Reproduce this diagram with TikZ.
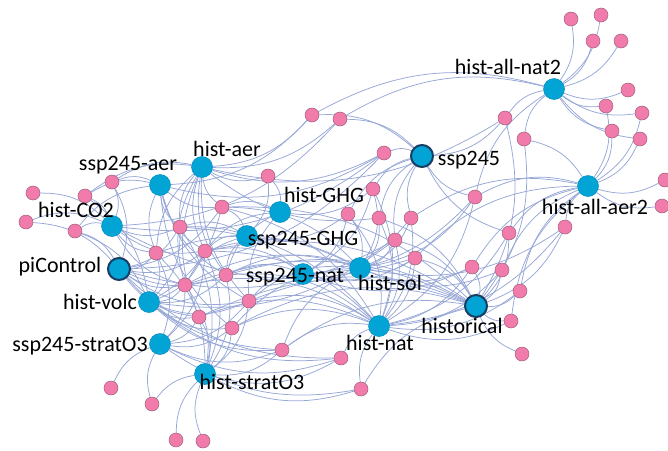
\documentclass[tikz,border=0pt]{standalone}
\usepackage{fontspec}
\setmainfont{Carlito}
\usepackage{tikz}
\usetikzlibrary{backgrounds}

\definecolor{edgec}{RGB}{150,166,214}
\definecolor{pinkc}{RGB}{241,124,172}
\definecolor{pinkd}{RGB}{160,92,122}
\definecolor{bluec}{RGB}{2,164,214}
\definecolor{blued}{RGB}{0,140,190}
\definecolor{navyc}{RGB}{24,60,98}

\begin{document}
\begin{tikzpicture}[x = 1pt, y = -1pt,
  model/.style = {circle, minimum size = 14pt, inner sep = 0pt, fill = pinkc, draw = pinkd, line width = .5pt},
  expt/.style = {circle, minimum size = 21pt, inner sep = 0pt, fill = bluec, draw = blued, line width = .5pt},
  core/.style = {expt, draw = navyc, line width = 2pt, minimum size = 22pt},
  lbl/.style = {font = \fontsize{22}{26}\selectfont, inner sep = 0pt, text = black},
  link/.style = {draw = edgec, line width = .75pt}]
\useasboundingbox (0,0) rectangle (668,450);

% experiments
\node[expt] (aer) at (202,167) {};
\node[expt] (saer) at (160,185) {};
\node[expt] (co2) at (112,226) {};
\node[core] (pic) at (119,269) {};
\node[expt] (volc) at (149,302) {};
\node[expt] (sstrat) at (160,344) {};
\node[expt] (strat) at (205,374) {};
\node[expt] (ghg) at (280,212) {};
\node[expt] (sghg) at (247,236) {};
\node[expt] (snat) at (303,274) {};
\node[expt] (sol) at (360,268) {};
\node[expt] (nat) at (379,326) {};
\node[core] (hist) at (476,306) {};
\node[core] (ssp) at (422,156) {};
\node[expt] (an2) at (554,89) {};
\node[expt] (aa2) at (588,186) {};

% models
\foreach \n/\x/\y in {p1/571/19, p2/601/15, p3/593/41, p4/621/41, p5/628/90,
    p6/606/106, p7/642/113, p8/612/131, p9/640/139, p10/505/118, p11/524/139,
    p12/312/115, p13/340/119, p14/384/153, p15/475/197, p16/665/180, p17/662/206,
    p18/565/227, p19/509/233, p20/373/189, p21/348/214, p22/379/218, p23/411/218,
    p24/395/240, p25/415/258, p26/472/267, p27/502/270, p28/520/291, p29/511/321,
    p30/522/354, p31/341/358, p32/361/389, p33/282/350, p34/268/176, p35/112/182,
    p36/33/193, p37/85/196, p38/26/222, p39/75/231, p40/222/207, p41/180/227,
    p42/156/253, p43/205/251, p44/226/275, p45/185/285, p46/249/301, p47/199/317,
    p48/232/328, p49/111/388, p50/152/404, p51/176/440, p52/203/441}
  \node[model] (\n) at (\x,\y) {};

% links
\begin{scope}[on background layer]
\foreach \p/\bs in {p1/{an2}, p2/{an2}, p3/{an2}, p4/{an2}, p5/{an2},
    p6/{an2,aa2}, p7/{an2,aa2}, p8/{an2,aa2}, p9/{an2,aa2},
    p10/{an2,ssp,aer,hist}, p11/{an2,aa2,hist},
    p12/{aer,saer,ssp,an2}, p13/{aer,ssp,an2,co2}, p14/{ssp,aer,saer,co2,pic},
    p15/{ssp,aa2,an2,sol,nat,snat}, p16/{aa2}, p17/{aa2},
    p18/{aa2,hist,nat,sol}, p19/{aa2,hist,nat,ssp},
    p20/{ssp,ghg,sol,nat,snat}, p21/{ssp,sol,sghg,snat,nat}, p22/{ssp,sol,nat,hist,aer},
    p23/{ssp,sol,nat,snat,aa2}, p24/{sol,nat,hist,ssp,pic,volc}, p25/{sol,nat,hist,snat,aa2,co2},
    p26/{hist,aa2,sol,nat,snat}, p27/{hist,aa2,nat,sol}, p28/{hist,aa2,nat},
    p29/{hist,aa2,nat}, p30/{hist},
    p31/{nat,strat,volc,sstrat,pic}, p32/{nat,strat,hist,sstrat},
    p33/{volc,sstrat,strat,nat,hist,pic,sol}, p34/{ghg,aer,sghg},
    p35/{saer,co2,aer,pic}, p36/{co2}, p37/{co2,saer,aer,volc}, p38/{co2,pic},
    p39/{co2,pic,saer,volc},
    p40/{aer,saer,ghg,sghg,pic,volc,nat,hist,sol},
    p41/{aer,saer,co2,pic,volc,strat,sghg,snat,nat},
    p42/{saer,co2,pic,volc,sstrat,strat,aer,sol},
    p43/{aer,saer,co2,pic,volc,sstrat,strat,ghg,sghg,snat,sol,nat,hist},
    p44/{aer,saer,pic,volc,strat,sghg,snat,sol,nat,hist,ghg},
    p45/{aer,co2,pic,volc,sstrat,strat,sghg,sol,nat,hist},
    p46/{aer,saer,pic,volc,sstrat,strat,ghg,snat,sol,nat,hist},
    p47/{volc,sstrat,strat,pic,aer,nat,hist},
    p48/{volc,sstrat,strat,saer,nat,hist,sol},
    p49/{sstrat}, p50/{sstrat,strat}, p51/{strat}, p52/{strat}}
  \foreach \b in \bs
    \draw[link] (\p) to[bend left=22] (\b);
\end{scope}

% labels
\node[lbl] at (508,67) {hist-all-nat2};
\node[lbl] at (469,160) {ssp245};
\node[lbl] at (595,207) {hist-all-aer2};
\node[lbl] at (227,149) {hist-aer};
\node[lbl] at (128,165) {ssp245-aer};
\node[lbl] at (76,210) {hist-CO2};
\node[lbl] at (60,267) {piControl};
\node[lbl] at (100,302) {hist-volc};
\node[lbl] at (80,346) {ssp245-stratO3};
\node[lbl] at (252,382) {hist-stratO3};
\node[lbl] at (324,195) {hist-GHG};
\node[lbl] at (303,240) {ssp245-GHG};
\node[lbl] at (295,277) {ssp245-nat};
\node[lbl] at (390,283) {hist-sol};
\node[lbl] at (380,343) {hist-nat};
\node[lbl] at (462,326) {historical};
\end{tikzpicture}
\end{document}
